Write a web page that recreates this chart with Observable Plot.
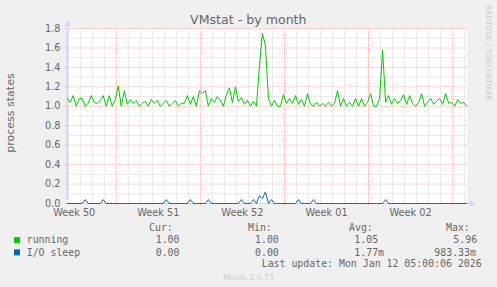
<!DOCTYPE html>
<html><head><meta charset="utf-8">
<script src="https://cdn.jsdelivr.net/npm/d3@7"></script>
<script src="https://cdn.jsdelivr.net/npm/@observablehq/plot@0.6"></script>
<style>
html,body{margin:0;padding:0;background:#f0f0f0;}
#chart{width:497px;height:287px;overflow:hidden;}
</style></head><body><div id="chart"></div>
<script>
// ---------- data ----------
const title = "VMstat - by month";
const yLabel = "process states";
const seriesNames = ["running", "I/O sleep"];
const seriesColors = ["#00cc00", "#0066b3"];
const startTime = Date.UTC(2025, 11, 9, 22);
const endTime = Date.UTC(2026, 0, 12, 5);
const stepHours = 6;
const runningValues = [
  1.08, 1.04, 1.11, 1.00, 1.08, 1.08, 1.00, 1.03, 1.11, 1.04,
  1.03, 1.06, 1.11, 1.00, 1.11, 1.00, 1.07, 1.21, 1.00, 1.16,
  1.02, 1.07, 1.03, 1.06, 1.00, 1.03, 1.05, 1.00, 1.07, 1.03,
  1.06, 1.00, 1.03, 1.06, 1.00, 1.03, 1.06, 1.00, 1.03, 1.03,
  1.11, 1.02, 1.10, 1.00, 1.16, 1.13, 1.16, 1.00, 1.08, 1.04,
  1.10, 1.06, 1.00, 1.12, 1.19, 1.04, 1.20, 1.05, 1.09, 1.02,
  1.06, 1.00, 1.05, 1.00, 1.42, 1.75, 1.62, 1.08, 1.00, 1.06,
  1.00, 1.00, 1.12, 1.03, 1.08, 1.03, 1.11, 1.02, 1.07, 1.00,
  1.13, 1.02, 1.00, 1.04, 1.00, 1.03, 1.00, 1.04, 1.00, 1.03,
  1.16, 1.00, 1.08, 1.00, 1.04, 1.00, 1.08, 1.00, 1.08, 1.00,
  1.04, 1.13, 1.00, 1.00, 1.08, 1.58, 1.04, 1.11, 1.02, 1.08,
  1.03, 1.06, 1.12, 1.02, 1.11, 1.03, 1.00, 1.04, 1.13, 1.00,
  1.04, 1.08, 1.02, 1.05, 1.08, 1.02, 1.13, 1.03, 1.04, 1.00,
  1.07, 1.03, 1.04, 1.00
];
const ioSleepValues = [
  0, 0, 0, 0, 0, 0, 0.04, 0, 0, 0,
  0, 0, 0.04, 0, 0, 0, 0, 0, 0, 0,
  0, 0, 0, 0, 0, 0, 0, 0, 0, 0,
  0, 0, 0, 0.04, 0, 0, 0, 0, 0, 0,
  0, 0.04, 0, 0, 0, 0, 0, 0.04, 0, 0,
  0, 0, 0, 0, 0, 0, 0, 0, 0.04, 0,
  0, 0, 0.04, 0, 0.08, 0.05, 0.12, 0, 0.04, 0,
  0, 0, 0, 0, 0, 0, 0, 0.04, 0, 0,
  0, 0, 0.04, 0, 0, 0, 0, 0, 0, 0,
  0, 0, 0, 0, 0, 0, 0, 0, 0, 0,
  0, 0, 0, 0, 0, 0, 0.04, 0, 0, 0,
  0, 0, 0, 0, 0, 0, 0, 0, 0, 0,
  0, 0, 0, 0, 0, 0, 0, 0, 0, 0,
  0, 0, 0, 0
];
const weekLabels = ["Week 50", "Week 51", "Week 52", "Week 01", "Week 02"];
const weekLabelTimes = [Date.UTC(2025,11,10,12), Date.UTC(2025,11,17,12), Date.UTC(2025,11,24,12), Date.UTC(2025,11,31,12), Date.UTC(2026,0,7,12)];
const weekStartTimes = [Date.UTC(2025,11,14), Date.UTC(2025,11,21), Date.UTC(2025,11,28), Date.UTC(2026,0,4), Date.UTC(2026,0,11)];
const yMajorTicks = [0, 0.2, 0.4, 0.6, 0.8, 1.0, 1.2, 1.4, 1.6, 1.8];
const yMinorTicks = [0.1, 0.3, 0.5, 0.7, 0.9, 1.1, 1.3, 1.5, 1.7];
const legendHeader = ["Cur:", "Min:", "Avg:", "Max:"];
const runningStats = ["1.00", "1.00", "1.05", "5.96"];
const ioSleepStats = ["0.00", "0.00", "1.77m", "983.33m"];
const lastUpdate = "Last update: Mon Jan 12 05:00:06 2026";
const versionText = "Munin 2.0.73";
const watermark = "RRDTOOL / TOBI OETIKER";

// ---------- chart ----------
const W = 497, H = 287, ML = 66.7, MR = 30.3, MT = 28, MB = 84;
const start = new Date(startTime), end = new Date(endTime);
const rows = runningValues.map((v, i) => ({
  t: new Date(startTime + i * stepHours * 3600e3), running: v, io: ioSleepValues[i]
}));
const weekStarts = weekStartTimes.map(d => new Date(d));
const weekStartSet = new Set(weekStartTimes);
const dayLines = d3.utcDay.range(start, end).filter(d => !weekStartSet.has(+d));
const labelRows = weekLabels.map((l, i) => ({label: l, t: new Date(weekLabelTimes[i])}));
const gridGray = "#d6d6d6", gridRed = "#f2b0b0", axisColor = "#cfd6f8", fontColor = "#666666";

const plot = Plot.plot({
  width: W, height: H,
  marginLeft: ML, marginRight: MR, marginTop: MT, marginBottom: MB,
  style: {background: "#f0f0f0", fontFamily: "DejaVu Sans", fontSize: "9.72px", color: fontColor, overflow: "visible"},
  x: {type: "utc", domain: [start, end], axis: null},
  y: {domain: [0, 1.8], axis: null},
  marks: [
    Plot.frame({fill: "#ffffff", stroke: "none"}),
    Plot.ruleX(dayLines, {stroke: gridGray, strokeDasharray: "1,1"}),
    Plot.ruleY(yMinorTicks, {stroke: gridGray, strokeDasharray: "1,1"}),
    Plot.ruleX(weekStarts, {stroke: gridRed, strokeDasharray: "1,1", insetBottom: -3}),
    Plot.ruleY(yMajorTicks.slice(1), {stroke: gridRed, strokeDasharray: "1,1", insetLeft: -3}),
    Plot.text(yMajorTicks, {x: () => start, y: d => d, text: d => d.toFixed(1), textAnchor: "end", dx: -6.7, fill: fontColor, fontSize: 9.72}),
    Plot.text(labelRows, {x: "t", y: () => 0, text: "label", dy: 9.5, fill: fontColor, fontSize: 9.72}),
    Plot.ruleX([start], {y1: 0, y2: 1.8, insetTop: -3, stroke: axisColor, strokeWidth: 2, dx: 0.3}),
    Plot.ruleY([0], {stroke: axisColor, insetRight: -2}),
    Plot.dot([0], {x: () => start, y: () => 1.8, symbol: "triangle", r: 2.6, fill: axisColor, stroke: "none", dy: -4, dx: 0.3}),
    Plot.dot([0], {x: () => end, y: () => 0, symbol: "triangle", r: 2.6, rotate: 90, fill: axisColor, stroke: "none", dx: 4}),
    Plot.line(rows, {x: "t", y: "running", stroke: seriesColors[0], strokeWidth: 1}),
    Plot.line(rows, {x: "t", y: "io", stroke: seriesColors[1], strokeWidth: 1})
  ]
});
document.getElementById("chart").appendChild(plot);

// ---------- title, labels, legend ----------
const svg = d3.select(plot);
const sans = "DejaVu Sans", mono = "DejaVu Sans Mono";
function addText(str, x, y, family, size, fill, anchor) {
  return svg.append("text").text(str)
    .attr("x", x).attr("y", y)
    .attr("text-anchor", anchor || "start")
    .attr("font-family", family).attr("font-size", size).attr("fill", fill);
}
addText(title, 248.3, 24, sans, 12.6, fontColor, "middle");
addText(yLabel, 0, 0, sans, 11, fontColor, "middle")
  .attr("transform", "translate(13.5,113) rotate(-90)");
addText(watermark, 0, 0, sans, 7.45, "#c8c8c8", "start")
  .attr("transform", "translate(485.5,5) rotate(90)");
addText(versionText, 248.5, 279.5, sans, 7.75, "#cccccc", "middle");

const legendFont = 9.9;
const headerX = [149, 248, 349, 446];
const statX = [[155.7, 255, 354.3, 453.3], [155.7, 255, 354.3, 434.3]];
headerX.forEach((x, i) => addText(legendHeader[i], x, 230.7, mono, legendFont, fontColor));
[runningStats, ioSleepStats].forEach((stats, r) => {
  const y = 243.4 + r * 12.3;
  svg.append("rect").attr("x", 14).attr("y", y - 6.3).attr("width", 6).attr("height", 6)
    .attr("fill", seriesColors[r]);
  addText(seriesNames[r], 26.7, y, mono, legendFont, fontColor);
  stats.forEach((s, i) => addText(s, statX[r][i], y, mono, legendFont, fontColor));
});
addText(lastUpdate, 261.7, 266.8, mono, legendFont, fontColor);
</script>
</body></html>
